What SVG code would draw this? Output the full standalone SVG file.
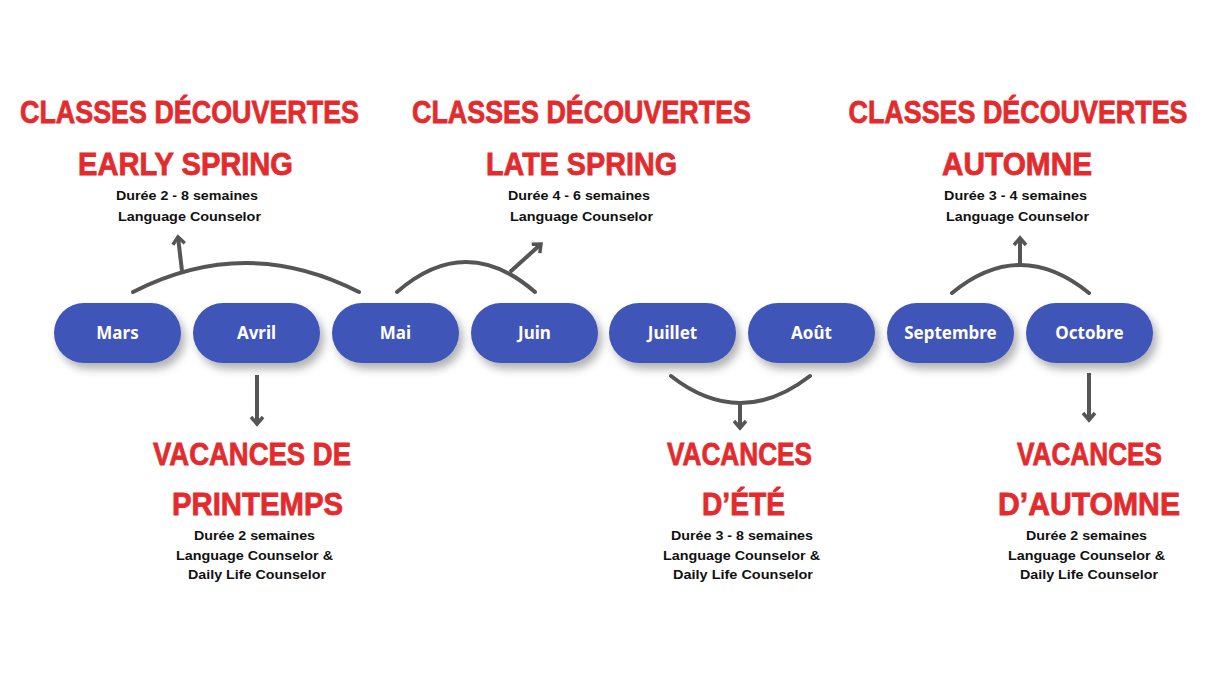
<svg xmlns="http://www.w3.org/2000/svg" width="1227" height="674" viewBox="0 0 1227 674">
<defs>
<style>
.title{font-family:"Liberation Sans",Arial,sans-serif;font-weight:700;font-size:32px;fill:#E32B2E;stroke:#E32B2E;stroke-width:0.8;text-anchor:middle}
.body{font-family:"Liberation Sans",Arial,sans-serif;font-weight:700;font-size:13.5px;fill:#111;text-anchor:middle}
.pill{fill:#4054B8;filter:url(#sh)}
.pt{font-family:"Noto Sans","Open Sans",sans-serif;font-weight:700;font-size:17px;fill:#fff;text-anchor:middle}
.c{fill:none;stroke:#555;stroke-width:4;stroke-linecap:round}
.a{fill:none;stroke:#555;stroke-width:4;marker-end:url(#ah)}
</style>
<filter id="sh" x="-20%" y="-30%" width="150%" height="180%">
<feDropShadow dx="4" dy="6" stdDeviation="4" flood-color="#000" flood-opacity="0.3"/>
</filter>
<marker id="ah" viewBox="0 0 16 16" refX="12" refY="8" markerWidth="16" markerHeight="16" orient="auto" markerUnits="userSpaceOnUse">
<path d="M5,2 L12,8 L5,14" fill="none" stroke="#555" stroke-width="3.5"/>
</marker>
</defs>
<rect width="1227" height="674" fill="#fff"/>

<g id="connectors">
<path class="c" d="M133,292 Q246,234 359,292"/>
<line class="a" x1="182" y1="271" x2="178" y2="237"/>
<path class="c" d="M397,292 Q466,232 535,292"/>
<line class="a" x1="510" y1="272" x2="541" y2="244"/>
<path class="c" d="M952,293 Q1020,237 1089,293"/>
<line class="a" x1="1020" y1="265" x2="1020" y2="238"/>
<line class="a" x1="257" y1="375" x2="257" y2="424"/>
<path class="c" d="M671,376 Q740,430 810,376"/>
<line class="a" x1="740" y1="403" x2="740" y2="428"/>
<line class="a" x1="1089" y1="373" x2="1089" y2="420"/>
</g>

<g id="mars"><rect class="pill" x="54" y="303" width="127" height="60" rx="30"/><text class="pt" x="117.5" y="339">Mars</text></g>
<g id="avril"><rect class="pill" x="193" y="303" width="127" height="60" rx="30"/><text class="pt" x="256.5" y="339">Avril</text></g>
<g id="mai"><rect class="pill" x="332" y="303" width="127" height="60" rx="30"/><text class="pt" x="395.5" y="339">Mai</text></g>
<g id="juin"><rect class="pill" x="471" y="303" width="127" height="60" rx="30"/><text class="pt" x="534.5" y="339">Juin</text></g>
<g id="juillet"><rect class="pill" x="609" y="303" width="127" height="60" rx="30"/><text class="pt" x="672.5" y="339">Juillet</text></g>
<g id="aout"><rect class="pill" x="748" y="303" width="127" height="60" rx="30"/><text class="pt" x="811.5" y="339">Août</text></g>
<g id="septembre"><rect class="pill" x="887" y="303" width="127" height="60" rx="30"/><text class="pt" x="950.5" y="339">Septembre</text></g>
<g id="octobre"><rect class="pill" x="1026" y="303" width="127" height="60" rx="30"/><text class="pt" x="1089.5" y="339">Octobre</text></g>

<g id="early-spring">
<text class="title" x="189.5" y="123" textLength="339" lengthAdjust="spacingAndGlyphs">CLASSES DÉCOUVERTES</text>
<text class="title" x="185.5" y="175" textLength="215" lengthAdjust="spacingAndGlyphs">EARLY SPRING</text>
<text class="body" x="187" y="200" textLength="142" lengthAdjust="spacingAndGlyphs">Durée 2 - 8 semaines</text>
<text class="body" x="189.5" y="221" textLength="143" lengthAdjust="spacingAndGlyphs">Language Counselor</text>
</g>
<g id="late-spring">
<text class="title" x="581.5" y="123" textLength="339" lengthAdjust="spacingAndGlyphs">CLASSES DÉCOUVERTES</text>
<text class="title" x="581.5" y="175" textLength="191" lengthAdjust="spacingAndGlyphs">LATE SPRING</text>
<text class="body" x="579" y="200" textLength="142" lengthAdjust="spacingAndGlyphs">Durée 4 - 6 semaines</text>
<text class="body" x="581.5" y="221" textLength="143" lengthAdjust="spacingAndGlyphs">Language Counselor</text>
</g>
<g id="automne">
<text class="title" transform="translate(1018,123) scale(0.84,1)" x="0" y="0">CLASSES DÉCOUVERTES</text>
<text class="title" x="1017" y="175" textLength="150" lengthAdjust="spacingAndGlyphs">AUTOMNE</text>
<text class="body" x="1015.5" y="200" textLength="143" lengthAdjust="spacingAndGlyphs">Durée 3 - 4 semaines</text>
<text class="body" x="1017.5" y="221" textLength="143" lengthAdjust="spacingAndGlyphs">Language Counselor</text>
</g>
<g id="vacances-printemps">
<text class="title" x="252" y="465" textLength="198" lengthAdjust="spacingAndGlyphs">VACANCES DE</text>
<text class="title" x="257.5" y="515" textLength="171" lengthAdjust="spacingAndGlyphs">PRINTEMPS</text>
<text class="body" x="254.5" y="540" textLength="121" lengthAdjust="spacingAndGlyphs">Durée 2 semaines</text>
<text class="body" x="254.5" y="560" textLength="157" lengthAdjust="spacingAndGlyphs">Language Counselor &amp;</text>
<text class="body" x="257" y="579" textLength="138" lengthAdjust="spacingAndGlyphs">Daily Life Counselor</text>
</g>
<g id="vacances-ete">
<text class="title" x="739.5" y="465" textLength="145" lengthAdjust="spacingAndGlyphs">VACANCES</text>
<text class="title" x="743.5" y="515" textLength="83" lengthAdjust="spacingAndGlyphs">D’ÉTÉ</text>
<text class="body" x="742" y="540" textLength="142" lengthAdjust="spacingAndGlyphs">Durée 3 - 8 semaines</text>
<text class="body" x="741.5" y="560" textLength="157" lengthAdjust="spacingAndGlyphs">Language Counselor &amp;</text>
<text class="body" x="743" y="579" textLength="140" lengthAdjust="spacingAndGlyphs">Daily Life Counselor</text>
</g>
<g id="vacances-automne">
<text class="title" x="1089.5" y="465" textLength="145" lengthAdjust="spacingAndGlyphs">VACANCES</text>
<text class="title" x="1089" y="515" textLength="182" lengthAdjust="spacingAndGlyphs">D’AUTOMNE</text>
<text class="body" x="1086.5" y="540" textLength="121" lengthAdjust="spacingAndGlyphs">Durée 2 semaines</text>
<text class="body" x="1086.5" y="560" textLength="157" lengthAdjust="spacingAndGlyphs">Language Counselor &amp;</text>
<text class="body" x="1089" y="579" textLength="138" lengthAdjust="spacingAndGlyphs">Daily Life Counselor</text>
</g>
</svg>
